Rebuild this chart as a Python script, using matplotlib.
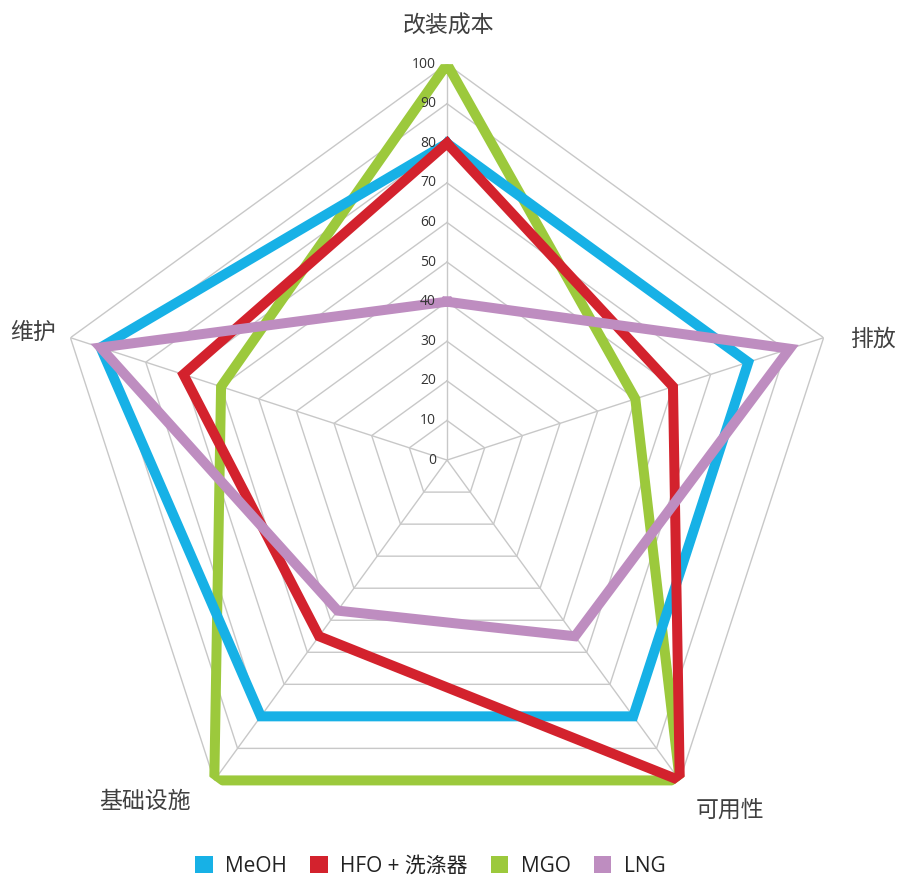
import numpy as np
import matplotlib
matplotlib.use("Agg")
import matplotlib.pyplot as plt
from matplotlib.patches import Patch

plt.rcParams['font.family'] = ['Open Sans', 'Noto Sans CJK SC', 'DejaVu Sans']

# axes, clockwise from the top
categories = ['改装成本', '排放', '可用性', '基础设施', '维护']

meoh = [80, 80, 80, 80, 92]
hfo = [80, 60, 100, 55, 70]
mgo = [100, 50, 100, 100, 60]
lng = [40, 91, 55, 47, 92]

series_names = ['MeOH', 'HFO + 洗涤器', 'MGO', 'LNG']
series_colors = ['#17b1e6', '#d3222d', '#9cc93c', '#be8dc0']
ring_values = list(range(0, 101, 10))

fig = plt.figure(figsize=(8.98, 8.77), dpi=100)
ax = fig.add_axes([0.0568, 0.0239, 0.882, 0.903], projection='polar')
ax.set_theta_zero_location('N')
ax.set_theta_direction(-1)
ax.set_ylim(0, 100)
ax.spines['polar'].set_visible(False)
ax.set_xticks([])
ax.set_yticks([])
ax.grid(False)
ax.patch.set_alpha(0)

n = len(categories)
angles = np.linspace(0, 2 * np.pi, n, endpoint=False)
closed = np.append(angles, angles[0])

# pentagon grid and spokes
for v in ring_values[1:]:
    ax.plot(closed, [v] * (n + 1), color='#c8c8c8', lw=1, zorder=1)
for a in angles:
    ax.plot([a, a], [0, 100], color='#c8c8c8', lw=1, zorder=1)

for v in ring_values:
    ax.annotate(str(v), xy=(0, v), xytext=(-8, 0), textcoords='offset points',
                ha='right', va='center', fontsize=10, color='#333333', zorder=10)

# MGO at the bottom, LNG on top
values_by_name = [meoh, hfo, mgo, lng]
zorders = [4, 5, 3, 6]
for vals, color, z in zip(values_by_name, series_colors, zorders):
    ax.plot(closed, vals + [vals[0]], color=color, lw=7.2,
            solid_joinstyle='miter', zorder=z)

# category labels around the chart
label_pos = [(448, 27), (873, 340), (730, 811), (145, 802), (33, 333)]
W, H = 898, 877
for name, (px, py) in zip(categories, label_pos):
    fig.text(px / W, 1 - py / H, name, ha='center', va='center',
             fontsize=16.5, color='#404040')

handles = [Patch(facecolor=c, edgecolor='none') for c in series_colors]
fig.legend(handles, series_names, loc='center', bbox_to_anchor=(0.479, 0.0125),
           ncol=4, frameon=False, fontsize=15, handlelength=0.85,
           handleheight=0.85, handletextpad=0.6, columnspacing=1.1,
           labelcolor='#222222')

fig.savefig('out.png', dpi=100)
